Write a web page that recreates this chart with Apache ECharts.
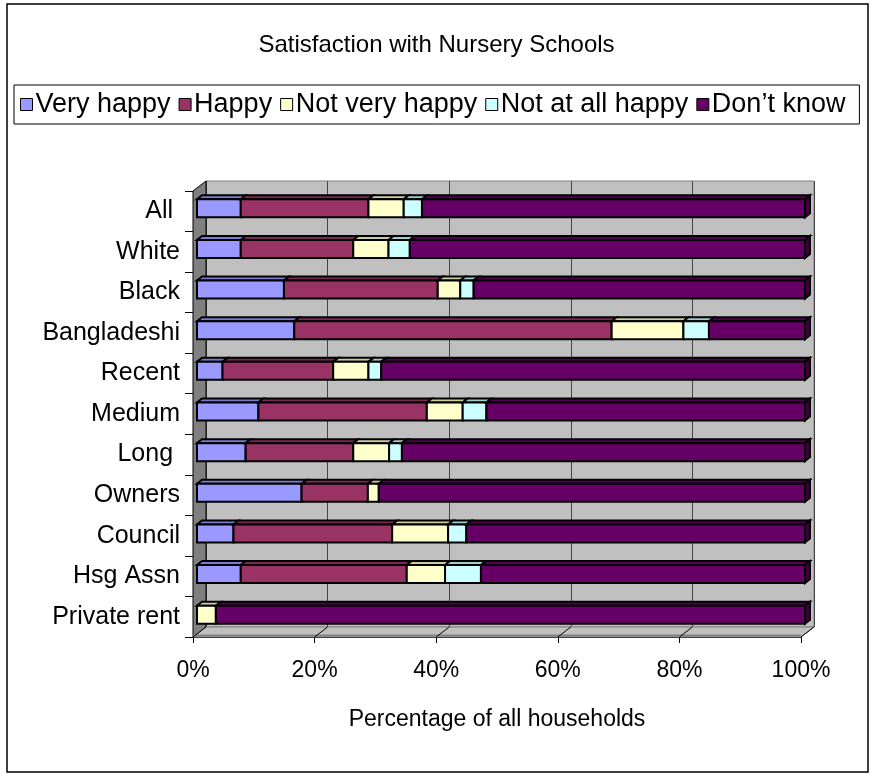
<!DOCTYPE html>
<html>
<head>
<meta charset="utf-8">
<script src="https://cdn.jsdelivr.net/npm/echarts@6/dist/echarts.min.js"></script>
<style>
html,body{margin:0;padding:0;background:#fff}
#chart{width:873px;height:778px}
</style>
</head>
<body>
<div id="chart"></div>
<script>
// Survey groups (top to bottom) and the share of households in each answer, in %
const categories = ['All ', 'White', 'Black', 'Bangladeshi', 'Recent', 'Medium', 'Long ', 'Owners', 'Council', 'Hsg Assn', 'Private rent'];
const veryHappy     = [7.2, 7.2, 14.3, 16.0, 4.2, 10.1, 8.0, 17.2, 6.0, 7.2, 0];
const happy         = [21.0, 18.5, 25.3, 52.2, 18.2, 27.7, 17.7, 10.9, 26.1, 27.3, 0];
const notVeryHappy  = [5.8, 5.8, 3.7, 11.8, 5.8, 5.9, 5.9, 1.8, 9.2, 6.3, 3.1];
const notAtAllHappy = [3.0, 3.5, 2.2, 4.2, 2.1, 3.9, 2.1, 0, 3.0, 5.9, 0];
const dontKnow      = [63.0, 65.0, 54.5, 15.8, 69.7, 52.4, 66.3, 70.1, 55.7, 53.3, 96.9];
const xTickValues   = [0, 20, 40, 60, 80, 100];

const seriesDefs = [
  { name: 'Very happy',       values: veryHappy,     color: '#9999FF', top: '#7A7AD0' },
  { name: 'Happy',            values: happy,         color: '#993366', top: '#7A2952' },
  { name: 'Not very happy',   values: notVeryHappy,  color: '#FFFFCC', top: '#CCCCA3' },
  { name: 'Not at all happy', values: notAtAllHappy, color: '#CCFFFF', top: '#A3CCCC' },
  { name: 'Don\u2019t know',  values: dontKnow,      color: '#660066', top: '#520052', side: '#3D003D' }
];

// 3-D frame geometry: front plane, depth offset of the walls, depth of the bars
const FRONT = { left: 193, right: 801, top: 191, bottom: 637 };
const WALL_DX = 13, WALL_DY = 10;
const BAR_DX = 5, BAR_DY = 4, BAR_H = 18;
const FONT = 'Liberation Sans, Arial, sans-serif';

// running totals so each answer starts where the previous one ends
const cumulative = categories.map(() => 0);
const series = seriesDefs.map((def) => {
  const data = def.values.map((v, ci) => {
    const start = cumulative[ci];
    cumulative[ci] += v;
    return [ci, start, start + v];
  });
  return {
    type: 'custom',
    name: def.name,
    xAxisIndex: 2,
    yAxisIndex: 2,
    itemStyle: { color: def.color, borderColor: '#000', borderWidth: 1 },
    encode: { y: 0, x: [1, 2] },
    data: data,
    renderItem: function (params, api) {
      const cat = api.value(0), start = api.value(1), end = api.value(2);
      if (end - start <= 0) return null;
      const a = api.coord([start, cat]);
      const b = api.coord([end, cat]);
      const x = a[0], w = b[0] - a[0], y = a[1] - BAR_H / 2;
      const stroke = { stroke: '#000', lineWidth: 2, lineJoin: 'miter' };
      const children = [
        { type: 'polygon',
          shape: { points: [[x, y], [x + BAR_DX, y - BAR_DY], [x + w + BAR_DX, y - BAR_DY], [x + w, y]] },
          style: Object.assign({ fill: def.top }, stroke) },
        { type: 'rect', shape: { x: x, y: y, width: w, height: BAR_H },
          style: Object.assign({ fill: def.color }, stroke) }
      ];
      if (def.side) {
        children.push({ type: 'polygon',
          shape: { points: [[x + w, y], [x + w + BAR_DX, y - BAR_DY], [x + w + BAR_DX, y + BAR_H - BAR_DY], [x + w, y + BAR_H]] },
          style: Object.assign({ fill: def.side }, stroke) });
      }
      return { type: 'group', children: children };
    }
  };
});

const back = { left: FRONT.left + WALL_DX, right: FRONT.right + WALL_DX, top: FRONT.top - WALL_DY, bottom: FRONT.bottom - WALL_DY };
const barGrid = { left: FRONT.left + 4, right: FRONT.right + 4, top: FRONT.top - 3, bottom: FRONT.bottom - 2 };

const chart = echarts.init(document.getElementById('chart'), null, { renderer: 'canvas' });
chart.setOption({
  backgroundColor: '#fff',
  animation: false,
  title: {
    text: 'Satisfaction with Nursery Schools',
    left: 'center', top: 28,
    textStyle: { fontFamily: FONT, fontSize: 24, fontWeight: 'normal', color: '#000' }
  },
  legend: {
    data: seriesDefs.map(d => d.name),
    left: 14, top: 85,
    padding: [6, 14, 6, 6],
    borderColor: '#000', borderWidth: 1,
    icon: 'rect', itemWidth: 12, itemHeight: 12, itemGap: 8,
    itemStyle: { borderColor: '#000', borderWidth: 1 },
    textStyle: { fontFamily: FONT, fontSize: 27, color: '#000', padding: [0, 0, 0, -2] }
  },
  grid: [
    // front plane: category and value axes with their labels
    { left: FRONT.left, width: FRONT.right - FRONT.left, top: FRONT.top, height: FRONT.bottom - FRONT.top },
    // back wall with the vertical gridlines
    { left: back.left, width: back.right - back.left, top: back.top, height: back.bottom - back.top,
      show: true, backgroundColor: '#C0C0C0', borderColor: '#808080', borderWidth: 1 },
    // plane through the bars
    { left: barGrid.left, width: barGrid.right - barGrid.left, top: barGrid.top, height: barGrid.bottom - barGrid.top }
  ],
  xAxis: [
    { gridIndex: 0, type: 'value', min: 0, max: 100, interval: 20,
      axisLine: { show: true, lineStyle: { color: '#000', width: 1 } },
      axisTick: { show: true, length: 6, lineStyle: { color: '#000' }, customValues: xTickValues },
      axisLabel: { margin: 22, fontFamily: FONT, fontSize: 23, color: '#000', formatter: '{value}%', customValues: xTickValues },
      splitLine: { show: false },
      name: 'Percentage of all households', nameLocation: 'middle', nameGap: 71,
      nameTextStyle: { fontFamily: FONT, fontSize: 23, color: '#000' } },
    { gridIndex: 1, type: 'value', min: 0, max: 100, interval: 20,
      axisLine: { show: false }, axisTick: { show: false }, axisLabel: { show: false },
      splitLine: { show: true, lineStyle: { color: '#444', width: 1 } } },
    { gridIndex: 2, type: 'value', min: 0, max: 100, interval: 20, show: false }
  ],
  yAxis: [
    { gridIndex: 0, type: 'category', data: categories, inverse: true,
      axisLine: { show: true, lineStyle: { color: '#000', width: 1 } },
      axisTick: { show: true, length: 8, inside: false, lineStyle: { color: '#000' } },
      axisLabel: { margin: 13, fontFamily: FONT, fontSize: 25, color: '#000' } },
    { gridIndex: 1, type: 'category', data: categories, inverse: true, show: false },
    { gridIndex: 2, type: 'category', data: categories, inverse: true, show: false }
  ],
  graphic: [
    // outer chart frame
    { type: 'rect', shape: { x: 7, y: 4, width: 861, height: 768 }, z: 100,
      style: { fill: 'none', stroke: '#000', lineWidth: 1.5 } },
    // left side wall
    { type: 'polygon', z: 1,
      shape: { points: [[FRONT.left, FRONT.top], [back.left, back.top], [back.left, back.bottom], [FRONT.left, FRONT.bottom]] },
      style: { fill: '#808080', stroke: '#000', lineWidth: 1 } },
    // floor
    { type: 'polygon', z: 1,
      shape: { points: [[FRONT.left, FRONT.bottom], [back.left, back.bottom], [back.right, back.bottom], [FRONT.right, FRONT.bottom]] },
      style: { fill: '#C0C0C0', stroke: '#808080', lineWidth: 1 } },
    { type: 'line', z: 2,
      shape: { x1: FRONT.left, y1: FRONT.bottom - 1.5, x2: FRONT.right, y2: FRONT.bottom - 1.5 },
      style: { stroke: '#808080', lineWidth: 2 } }
  ].concat(xTickValues.map(v => {
    // slanted floor ticks running from the front edge back to the wall
    const fx = FRONT.left + (FRONT.right - FRONT.left) * v / 100;
    return { type: 'line', z: 3,
      shape: { x1: fx, y1: FRONT.bottom, x2: fx + WALL_DX, y2: FRONT.bottom - WALL_DY },
      style: { stroke: '#000', lineWidth: 1 } };
  })),
  series: series
});
</script>
</body>
</html>
